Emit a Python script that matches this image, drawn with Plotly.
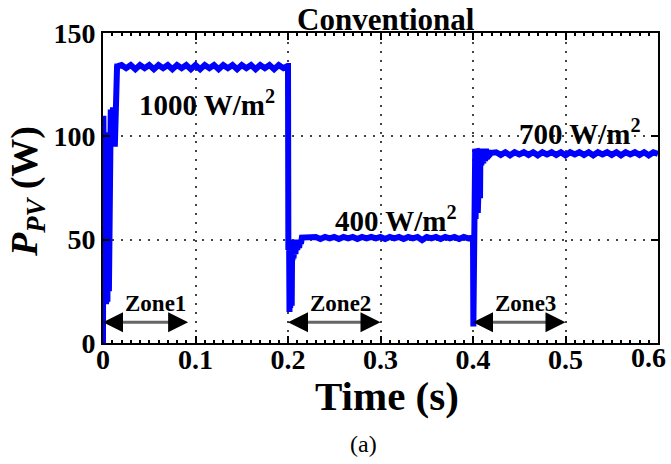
import plotly.graph_objects as go

# ---------------- data ----------------
# start-up transient, 0 .. 0.016 s
t_start = [0.0, 0.0004, 0.0008, 0.0012, 0.0016, 0.002, 0.0024, 0.0028, 0.0032, 0.0036,
           0.004, 0.0044, 0.0048, 0.0052, 0.0056, 0.006, 0.0064, 0.0068, 0.0072, 0.0076,
           0.008, 0.0084, 0.0088, 0.0092, 0.0096, 0.010, 0.0104, 0.0108, 0.0112, 0.0116,
           0.012, 0.0124, 0.0128, 0.0132, 0.0136, 0.014, 0.0144, 0.0148, 0.0152, 0.0156,
           0.016]
p_start = [0, 110, 18, 106, 20, 102, 22, 100, 19, 101,
           21, 99, 20, 100, 22, 98, 25, 96, 30, 60,
           96, 113, 95, 114, 96, 112, 95, 114, 97, 113,
           96, 114, 95, 113, 97, 114, 96, 113, 134, 135,
           134]

# 1000 W/m2 steady state
t_1000 = [0.02, 0.025, 0.03, 0.035, 0.04, 0.045, 0.05, 0.055, 0.06, 0.065,
          0.07, 0.075, 0.08, 0.085, 0.09, 0.095, 0.10, 0.105, 0.11, 0.115,
          0.12, 0.125, 0.13, 0.135, 0.14, 0.145, 0.15, 0.155, 0.16, 0.165,
          0.17, 0.175, 0.18, 0.185, 0.19, 0.195, 0.1995]
p_1000 = [134.5, 133, 134.5, 132.5, 134.5, 133, 134.5, 132.5, 134.5, 133,
          134.5, 132.5, 134.5, 133, 134.5, 132.5, 134.5, 132.5, 134.5, 133,
          134.5, 132.5, 134.5, 133, 134.5, 132.5, 134.5, 133, 134.5, 132.5,
          134.5, 133, 134.5, 132.5, 134.5, 133, 134]

# step 1000 -> 400 W/m2 at 0.2 s
t_drop1 = [0.2, 0.2004, 0.2008, 0.2012, 0.2016, 0.202, 0.2024, 0.2028, 0.2032, 0.2036,
           0.204, 0.2044, 0.2048, 0.2052, 0.206, 0.207, 0.208, 0.209, 0.21, 0.211,
           0.212, 0.213, 0.214, 0.215, 0.217]
p_drop1 = [134, 45, 38, 50, 15, 48, 17, 46, 20, 49,
           18, 44, 40, 50, 41, 48, 43, 49, 45, 50,
           46, 49.5, 48, 51, 51]

# 400 W/m2 steady state
t_400 = [0.22, 0.225, 0.23, 0.235, 0.24, 0.245, 0.25, 0.255, 0.26, 0.265,
         0.27, 0.275, 0.28, 0.285, 0.29, 0.295, 0.30, 0.305, 0.31, 0.315,
         0.32, 0.325, 0.33, 0.335, 0.34, 0.345, 0.35, 0.355, 0.36, 0.365,
         0.37, 0.375, 0.38, 0.385, 0.39, 0.395, 0.3995]
p_400 = [51.3, 50.6, 51.3, 50.3, 51.3, 50.6, 51.3, 50.3, 51.3, 50.6,
         51.3, 50.3, 51.3, 50.6, 51.3, 50.6, 51.3, 50.3, 51.3, 50.6,
         51.3, 50.3, 51.3, 50.6, 51.3, 49.8, 51.3, 50.6, 51.3, 50.3,
         51.3, 50.6, 51.3, 50.3, 51.3, 50.6, 51]

# step 400 -> 700 W/m2 at 0.4 s
t_drop2 = [0.4, 0.4004, 0.4008, 0.4012, 0.4016, 0.402, 0.4024, 0.4028, 0.4032, 0.4036,
           0.404, 0.4044, 0.4048, 0.4052, 0.4056, 0.406, 0.4064, 0.4068, 0.4072, 0.4076,
           0.408, 0.409, 0.41, 0.411, 0.412, 0.413, 0.414, 0.415, 0.416, 0.418,
           0.42]
p_drop2 = [51, 8, 94, 10, 93, 20, 94, 60, 93, 62,
           94, 64, 93, 63, 94, 66, 93, 64, 94, 70,
           93, 86, 94, 87, 93, 88, 94, 89, 93, 91,
           92]

# 700 W/m2 steady state
t_700 = [0.425, 0.43, 0.435, 0.44, 0.445, 0.45, 0.455, 0.46, 0.465, 0.47,
         0.475, 0.48, 0.485, 0.49, 0.495, 0.50, 0.505, 0.51, 0.515, 0.52,
         0.525, 0.53, 0.535, 0.54, 0.545, 0.55, 0.555, 0.56, 0.565, 0.57,
         0.575, 0.58, 0.585, 0.59, 0.595, 0.6]
p_700 = [92.3, 91, 92.3, 90.8, 92.3, 91.2, 92.3, 91, 92.3, 90.8,
         92.3, 91.2, 92.3, 91, 92.3, 90.8, 92.3, 91.2, 92.3, 91,
         92.3, 90.8, 92.3, 91.2, 92.3, 91, 92.3, 90.8, 92.3, 91.2,
         92.3, 91, 92.3, 90.8, 92.3, 91.5]

time_s = t_start + t_1000 + t_drop1 + t_400 + t_drop2 + t_700
power_w = p_start + p_1000 + p_drop1 + p_400 + p_drop2 + p_700
assert len(time_s) == len(power_w)

x_ticks = [0, 0.1, 0.2, 0.3, 0.4, 0.5, 0.6]
x_ticklabels = ["0", "0.1", "0.2", "0.3", "0.4", "0.5", "0.6"]
y_ticks = [0, 50, 100, 150]
y_ticklabels = ["0", "50", "100", "150"]

irr_labels = ["1000 W/m<sup>2</sup>", "400 W/m<sup>2</sup>", "700 W/m<sup>2</sup>"]
irr_label_t = [0.112, 0.317, 0.516]
irr_label_p = [116, 60, 102]

zone_names = ["Zone1", "Zone2", "Zone3"]
zone_start = [0.0, 0.2, 0.4]
zone_end = [0.092, 0.3, 0.5]
zone_arrow_p = 10
zone_label_p = 19

SERIF = "Liberation Serif, Times New Roman, serif"
TICKFONT = dict(family=SERIF, size=28, color="black", weight="bold")

fig = go.Figure()
fig.add_trace(go.Scatter(x=time_s, y=power_w, mode="lines",
                         line=dict(color="#0000FF", width=6), hoverinfo="skip"))

axis_common = dict(
    showline=True, linecolor="black", linewidth=2, mirror="allticks",
    ticks="inside", ticklen=7, tickwidth=1.5, tickcolor="black",
    showgrid=True, gridcolor="#444444", gridwidth=1.5, griddash="2px,7px",
    zeroline=False, automargin=False, tickfont=TICKFONT,
)

# the last x tick label sits flush with the right edge (drawn separately below)
x_ticktext_axis = x_ticklabels[:-1] + [""]

fig.update_xaxes(range=[0, 0.6], tickvals=x_ticks, ticktext=x_ticktext_axis,
                 ticklabelstandoff=-10,
                 minor=dict(ticks="inside", ticklen=3, dtick=0.01, tickcolor="black", showgrid=False),
                 **axis_common)
fig.update_yaxes(range=[0, 150], tickvals=y_ticks, ticktext=y_ticklabels,
                 **axis_common)

ann = []
ann.append(dict(x=x_ticks[-1], y=-0.048, xref="x", yref="paper", text=x_ticklabels[-1],
                showarrow=False, xanchor="right", yanchor="middle", xshift=10,
                font=TICKFONT))

for txt, tx, py in zip(irr_labels, irr_label_t, irr_label_p):
    ann.append(dict(x=tx, y=py, xref="x", yref="y", text="<b>" + txt + "</b>", showarrow=False,
                    xanchor="center", yanchor="middle",
                    font=dict(family=SERIF, size=29, color="black")))

shapes = []
for name, xs, xe in zip(zone_names, zone_start, zone_end):
    shapes.append(dict(type="line", xref="x", yref="y", x0=xs + 0.005, x1=xe - 0.005,
                       y0=zone_arrow_p, y1=zone_arrow_p, line=dict(color="#666666", width=3)))
    ann.append(dict(x=xs, y=zone_arrow_p, xref="x", yref="y", ax=14, ay=0, text="",
                    showarrow=True, arrowhead=2, arrowsize=1.6, arrowwidth=2.5, arrowcolor="black"))
    ann.append(dict(x=xe, y=zone_arrow_p, xref="x", yref="y", ax=-14, ay=0, text="",
                    showarrow=True, arrowhead=2, arrowsize=1.6, arrowwidth=2.5, arrowcolor="black"))
    ann.append(dict(x=(xs + 0.057), y=zone_label_p, xref="x", yref="y", text="<b>" + name + "</b>",
                    showarrow=False, xanchor="center", yanchor="middle",
                    font=dict(family=SERIF, size=23, color="black")))

# title, axis titles, caption
ann.append(dict(x=0.51, y=1.042, xref="paper", yref="paper", text="<b>Conventional</b>",
                showarrow=False, xanchor="center", yanchor="middle",
                font=dict(family=SERIF, size=31, color="black")))
ann.append(dict(x=0.512, y=-0.172, xref="paper", yref="paper", text="<b>Time (s)</b>",
                showarrow=False, xanchor="center", yanchor="middle",
                font=dict(family=SERIF, size=41, color="black")))
ann.append(dict(x=0.470, y=-0.326, xref="paper", yref="paper", text="(a)",
                showarrow=False, xanchor="center", yanchor="middle",
                font=dict(family=SERIF, size=24, color="black")))
ann.append(dict(x=-0.137, y=0.49, xref="paper", yref="paper",
                text="<b><i>P</i><sub><i>PV</i></sub> (W)</b>", textangle=-90,
                showarrow=False, xanchor="center", yanchor="middle",
                font=dict(family=SERIF, size=38, color="black")))

fig.update_layout(width=671, height=464, margin=dict(l=103, r=13, t=33, b=121),
                  plot_bgcolor="white", paper_bgcolor="white", showlegend=False,
                  annotations=ann, shapes=shapes)

fig.write_html("out.html")
